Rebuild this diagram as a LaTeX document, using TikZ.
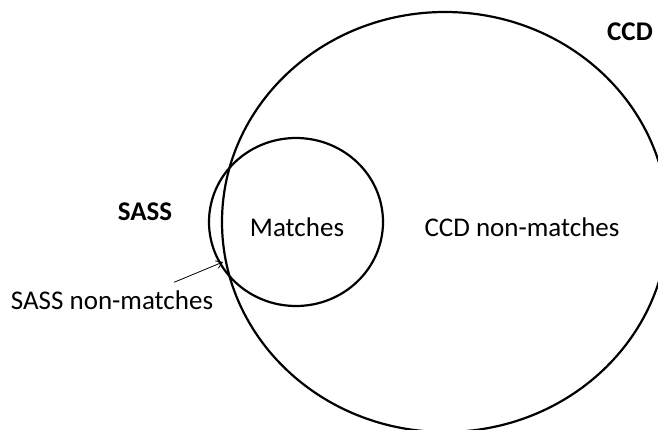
\documentclass[tikz,border=0pt]{standalone}
\usepackage{fontspec}
\setmainfont{Carlito}
\usetikzlibrary{positioning,arrows.meta}

\begin{document}
\begin{tikzpicture}[x=1pt,y=-1pt,
    setline/.style={line width=2.2pt},
    lbl/.style={font=\fontsize{27}{31}\selectfont, inner sep=0pt},
    setname/.style={font=\fontsize{27}{31}\selectfont\bfseries, inner sep=0pt}]
    \useasboundingbox (0,0) rectangle (658,430);

    % The two sets (CCD is cut by the page edge)
    \begin{scope}
        \clip (0,0) rectangle (658,430);
        \draw[setline] (445,222) ellipse [x radius=223, y radius=210];
        \draw[setline] (296,222) ellipse [x radius=87, y radius=84];
    \end{scope}

    % Labels
    \node[setname] (ccd) at (630,32) {CCD};
    \node[setname] (sass) at (145,212) {SASS};
    \node[lbl] (matches) at (297,227) {Matches};
    \node[lbl] (ccdnon) at (522,227) {CCD non-matches};
    \node[lbl] (sassnon) at (112,300) {SASS non-matches};

    % Pointer to the SASS-only sliver
    \coordinate (tip) at (223,262);
    \draw[-{Straight Barb[length=6pt,width=8pt]}, line width=0.8pt] ([xshift=62pt,yshift=8pt]sassnon.north) -- (tip);
\end{tikzpicture}
\end{document}
